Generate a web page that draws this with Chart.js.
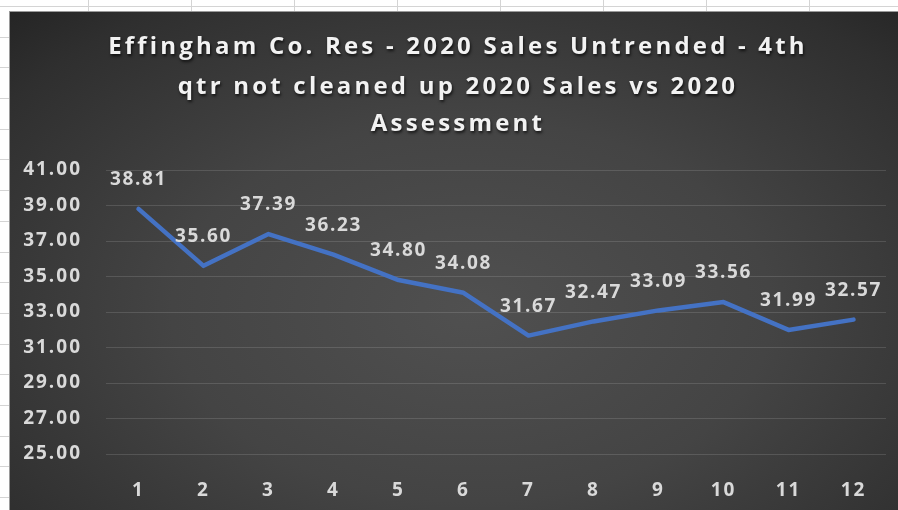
<!DOCTYPE html>
<html>
<head>
<meta charset="utf-8">
<script src="https://cdn.jsdelivr.net/npm/chart.js@4"></script>
<style>
    html, body { margin: 0; padding: 0; }
    body {
        width: 898px; height: 510px; overflow: hidden; position: relative;
        background-color: #fff;
        /* spreadsheet grid behind the chart */
        background-image:
            repeating-linear-gradient(to bottom, transparent 0 6px, #d4d4d4 6px 7px, transparent 7px 30.7px),
            repeating-linear-gradient(to right, transparent 0 88px, #d4d4d4 88px 89px, transparent 89px 103px);
    }
    #wrap {
        position: absolute; left: 9px; top: 11px; width: 889px; height: 499px;
        border-top: 1px solid #9a9a9a; border-left: 1px solid #9a9a9a; box-sizing: border-box;
        background: radial-gradient(ellipse 75% 85% at 52% 60%, #505050 0%, #444444 45%, #2f2f2f 85%, #242424 100%);
    }
</style>
</head>
<body>
<div id="wrap"><canvas id="chart" width="888" height="498"></canvas></div>
<script>
// ─── Data ───
const categories = ['1', '2', '3', '4', '5', '6', '7', '8', '9', '10', '11', '12'];
const ratios = [38.81, 35.60, 37.39, 36.23, 34.80, 34.08, 31.67, 32.47, 33.09, 33.56, 31.99, 32.57];
const titleLines = [
    'Effingham Co. Res - 2020 Sales Untrended - 4th',
    'qtr not cleaned up 2020 Sales vs 2020',
    'Assessment'
];
const yMin = 25, yMax = 41, yStep = 2;

const FONT = "'Open Sans', sans-serif";

// letter spacing for axis text (Excel look)
const spacing = {
    id: 'spacing',
    beforeDraw(chart) { chart.ctx.letterSpacing = '2px'; },
    afterDraw(chart) { chart.ctx.letterSpacing = '0px'; }
};

// title drawn by hand so it can carry a shadow
const titleBlock = {
    id: 'titleBlock',
    afterDraw(chart) {
        const { ctx } = chart;
        ctx.save();
        ctx.letterSpacing = '3.2px';
        ctx.font = `bold 24px ${FONT}`;
        ctx.fillStyle = '#f2f2f2';
        ctx.textAlign = 'center';
        ctx.textBaseline = 'middle';
        ctx.shadowColor = 'rgba(0,0,0,0.7)';
        ctx.shadowBlur = 3;
        ctx.shadowOffsetX = 1;
        ctx.shadowOffsetY = 2;
        const ys = [35, 75, 112];
        titleLines.forEach((t, i) => ctx.fillText(t, 448, ys[i]));
        ctx.restore();
    }
};

// value labels above each point
const valueLabels = {
    id: 'valueLabels',
    afterDatasetsDraw(chart) {
        const { ctx } = chart;
        const meta = chart.getDatasetMeta(0);
        ctx.save();
        ctx.letterSpacing = '1.6px';
        ctx.font = `bold 19px ${FONT}`;
        ctx.fillStyle = '#d9d9d9';
        ctx.textAlign = 'center';
        ctx.textBaseline = 'middle';
        meta.data.forEach((pt, i) => {
            ctx.fillText(ratios[i].toFixed(2), pt.x, pt.y - 29);
        });
        ctx.restore();
    }
};

new Chart(document.getElementById('chart'), {
    type: 'line',
    data: {
        labels: categories,
        datasets: [{
            data: ratios,
            borderColor: '#4472C4',
            borderWidth: 4.5,
            pointRadius: 0,
            tension: 0,
            borderJoinStyle: 'round',
            borderCapStyle: 'round'
        }]
    },
    options: {
        responsive: false,
        animation: false,
        layout: { padding: { top: 158, left: 6, right: 12, bottom: 0 } },
        scales: {
            x: {
                offset: true,
                grid: { display: false, drawTicks: false },
                border: { display: false },
                afterFit: s => { s.height = 56; },
                ticks: {
                    color: '#d9d9d9',
                    padding: 25,
                    maxRotation: 0,
                    font: { family: FONT, size: 19, weight: 'bold' }
                }
            },
            y: {
                min: yMin,
                max: yMax,
                grid: { color: 'rgba(255,255,255,0.13)', drawTicks: false },
                border: { display: false },
                afterFit: s => { s.width = 90; },
                ticks: {
                    stepSize: yStep,
                    color: '#d9d9d9',
                    padding: 24,
                    callback: v => v.toFixed(2),
                    font: { family: FONT, size: 19, weight: 'bold' }
                }
            }
        },
        plugins: {
            legend: { display: false },
            tooltip: { enabled: false },
            title: { display: false }
        }
    },
    plugins: [spacing, valueLabels, titleBlock]
});
</script>
</body>
</html>
